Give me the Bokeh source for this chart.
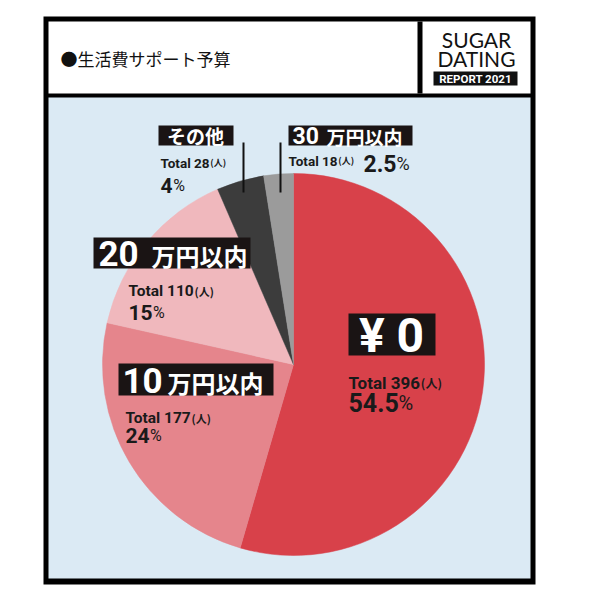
import numpy as np
from bokeh.plotting import figure
from bokeh.models import ColumnDataSource
from bokeh.core.properties import value
from bokeh.embed import file_html
from bokeh.resources import INLINE

# ---------------- data ----------------
title = "●生活費サポート予算"
brand_lines = ["SUGAR", "DATING"]
brand_tag = "REPORT 2021"
categories = ["¥0", "10万円以内", "20万円以内", "その他", "30万円以内"]
counts = [396, 177, 110, 28, 18]
percents = [54.5, 24, 15, 4, 2.5]
unit = "(人)"

# ---------------- styles / layout ----------------
colors = ["#d8414a", "#e5858c", "#f0b8bd", "#3c3c3c", "#9b9b9b"]
BG = "#dbeaf4"
W = H = 600
CX, CY, R = 293, 364, 191
JP = "Noto Sans CJK JP"
LAT = "Roboto"

def Y(y):
    return H - y

# label layout per category (screen px)
layout = [
    dict(box=(348, 313, 435, 355), center=(391, 335, 48), tot=(348, 382, 17), pct=(348, 402, 25)),
    dict(box=(118, 363, 273, 395), num=(122, 380, 35), rest=(167, 382, 24), tot=(125, 417, 15.5), pct=(125, 435, 21)),
    dict(box=(93, 237, 250, 268), num=(98, 253, 35), rest=(151, 255, 24), tot=(128, 290, 15.5), pct=(128, 312, 21)),
    dict(box=(158, 125, 233, 145), center=(195, 135, 19), tot=(160, 162, 13.5), pct=(160, 185, 21)),
    dict(box=(288, 125, 412, 145), num=(292, 135, 23), rest=(326, 136, 19), tot=(288, 160, 13.5), pct=(363, 163, 23)),
]
leaders = [(243, 142, 192), (280, 142, 192)]

CW = {d: 0.562 for d in "0123456789"}
CW.update({"T": 0.6, "o": 0.57, "t": 0.34, "a": 0.55, "l": 0.26, " ": 0.25, ".": 0.27})

def tw(s, size):
    return sum(CW.get(c, 0.56) for c in s) * size

p = figure(width=W, height=H, x_range=(0, W), y_range=(0, H),
           output_backend="svg", toolbar_location=None,
           x_axis_type=None, y_axis_type=None, min_border=0)
p.grid.visible = False
p.outline_line_color = None
p.background_fill_color = "white"
p.border_fill_color = "white"

# frame
p.quad(left=[43], right=[535], top=[Y(16)], bottom=[Y(584)], fill_color="black", line_color=None)
p.quad(left=[48], right=[530], top=[Y(21)], bottom=[Y(93)], fill_color="white", line_color=None)
p.quad(left=[417], right=[422], top=[Y(21)], bottom=[Y(93)], fill_color="black", line_color=None)
p.quad(left=[48], right=[530], top=[Y(97)], bottom=[Y(578)], fill_color=BG, line_color=None)

# header
p.text(x=[60], y=[Y(58)], text=[title], text_font=value(JP), text_font_size="17px",
       text_baseline="middle", text_align="left", text_color="#111111")
p.text(x=[476, 476], y=[Y(39), Y(58)], text=brand_lines, text_font=value("Lato"),
       text_font_size="21px", text_baseline="middle", text_align="center", text_color="#111111")
p.quad(left=[433], right=[517], top=[Y(71)], bottom=[Y(85)], fill_color="#111111", line_color=None)
p.text(x=[475], y=[Y(78.5)], text=[brand_tag], text_font=value(LAT), text_font_style="bold",
       text_font_size="11.5px", text_baseline="middle", text_align="center", text_color="white")

# pie
fr = np.array(percents, dtype=float) / sum(percents)
ends = np.cumsum(fr)
starts = ends - fr
src = ColumnDataSource(dict(
    cat=categories,
    start=np.pi / 2 - starts * 2 * np.pi,
    end=np.pi / 2 - ends * 2 * np.pi,
    color=colors,
))
p.wedge(x=CX, y=Y(CY), radius=R, start_angle="start", end_angle="end", direction="clock",
        fill_color="color", line_color="color", line_width=0.5, source=src)

# leader lines
for x, y0, y1 in leaders:
    p.segment(x0=[x], y0=[Y(y0)], x1=[x], y1=[Y(y1)], line_color="#111111", line_width=2)

# labels
for cat, cnt, pct, lay in zip(categories, counts, percents, layout):
    l, t, r, b = lay["box"]
    p.quad(left=[l], right=[r], top=[Y(t)], bottom=[Y(b)], fill_color="#1a1414", line_color=None)
    if "center" in lay:
        cx, cy, fs = lay["center"]
        txt = cat if cat != "¥0" else "¥ 0"
        font = LAT if cat == "¥0" else JP
        p.text(x=[cx], y=[Y(cy)], text=[txt], text_font=value(font), text_font_style="bold",
               text_font_size=f"{fs}px", text_baseline="middle", text_align="center", text_color="white")
    else:
        num = "".join(c for c in cat if c.isdigit())
        rest = cat[len(num):]
        nx, ny, nfs = lay["num"]
        rx, ry, rfs = lay["rest"]
        p.text(x=[nx], y=[Y(ny)], text=[num], text_font=value(LAT), text_font_style="bold",
               text_font_size=f"{nfs}px", text_baseline="middle", text_align="left", text_color="white")
        p.text(x=[rx], y=[Y(ry)], text=[rest], text_font=value(JP), text_font_style="bold",
               text_font_size=f"{rfs}px", text_baseline="middle", text_align="left", text_color="white")
    # total line
    tx, ty, tfs = lay["tot"]
    ttxt = f"Total {cnt}"
    p.text(x=[tx], y=[Y(ty)], text=[ttxt], text_font=value(LAT), text_font_style="bold",
           text_font_size=f"{tfs}px", text_baseline="alphabetic", text_align="left", text_color="#1a1a1a")
    p.text(x=[tx + tw(ttxt, tfs)], y=[Y(ty)], text=[unit], text_font=value(JP), text_font_style="bold",
           text_font_size=f"{round(tfs * 0.68)}px", text_baseline="alphabetic", text_align="left", text_color="#1a1a1a")
    # percent
    px_, py_, pfs = lay["pct"]
    ptxt = f"{pct:g}"
    p.text(x=[px_], y=[Y(py_)], text=[ptxt], text_font=value(LAT), text_font_style="bold",
           text_font_size=f"{pfs}px", text_baseline="alphabetic", text_align="left", text_color="#1a1a1a")
    p.text(x=[px_ + tw(ptxt, pfs) + 1], y=[Y(py_)], text=["%"], text_font=value(LAT),
           text_font_size=f"{round(pfs * 0.78)}px", text_baseline="alphabetic", text_align="left", text_color="#1a1a1a")

open("out.html", "w").write(file_html(p, INLINE))
